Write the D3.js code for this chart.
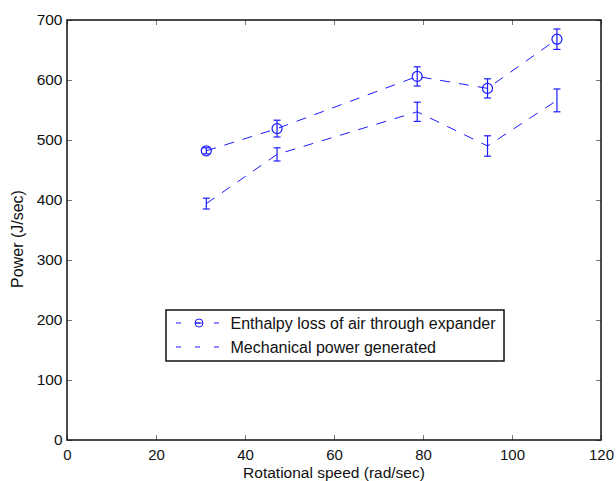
<!DOCTYPE html>
<html>
<head>
<meta charset="utf-8">
<script src="https://cdn.jsdelivr.net/npm/d3@7"></script>
<style>
  body { margin: 0; background: #fff; }
  text { font-family: "Liberation Sans", Arial, sans-serif; fill: #111; }
</style>
</head>
<body>
<div id="chart"></div>
<script>
// rotational speed (rad/sec)
var speeds = [31.3, 47.2, 78.7, 94.5, 110.1]
// enthalpy loss of air through expander
var enthalpy = [482, 519, 606, 586, 668]
var enthalpyErr = [5, 14, 16, 16, 17]
// mechanical power generated
var mechanical = [394, 476, 547, 490, 566]
var mechanicalErr = [9, 11, 16, 17, 19]

var xTicks = [0, 20, 40, 60, 80, 100, 120]
var yTicks = [0, 100, 200, 300, 400, 500, 600, 700]
var legendLabels = ["Enthalpy loss of air through expander", "Mechanical power generated"]

var margin = {top: 20, right: 15, bottom: 41, left: 67},
    width = 616 - margin.left - margin.right,
    height = 481 - margin.top - margin.bottom;

var svg = d3.select("#chart")
  .append("svg")
    .attr("width", 616)
    .attr("height", 481)
  .append("g")
    .attr("transform", "translate(" + margin.left + "," + margin.top + ")");

var x = d3.scaleLinear().domain([0, 120]).range([0, width])
var y = d3.scaleLinear().domain([0, 700]).range([height, 0])

// axes, matlab style: ticks inside, box on
var tickLen = 5
svg.append("g")
  .attr("transform", "translate(0," + height + ")")
  .call(d3.axisBottom(x).tickValues(xTicks).tickSizeInner(-tickLen).tickSizeOuter(0).tickPadding(9))
  .call(function(g){
    g.select(".domain").remove()
    g.selectAll(".tick line").attr("stroke", "#777")
    g.selectAll(".tick text").style("font-size", "15px").attr("dy", "0.72em")
  })

svg.append("g")
  .call(d3.axisLeft(y).tickValues(yTicks).tickSizeInner(-tickLen).tickSizeOuter(0).tickPadding(4.5))
  .call(function(g){
    g.select(".domain").remove()
    g.selectAll(".tick line").attr("stroke", "#777")
    g.selectAll(".tick text").style("font-size", "15.5px")
  })

// top and right ticks
svg.append("g")
  .call(d3.axisTop(x).tickValues(xTicks).tickSizeInner(-tickLen).tickSizeOuter(0).tickFormat(""))
  .call(function(g){ g.select(".domain").remove(); g.selectAll(".tick line").attr("stroke", "#777") })
svg.append("g")
  .attr("transform", "translate(" + width + ",0)")
  .call(d3.axisRight(y).tickValues(yTicks).tickSizeInner(-tickLen).tickSizeOuter(0).tickFormat(""))
  .call(function(g){ g.select(".domain").remove(); g.selectAll(".tick line").attr("stroke", "#777") })

svg.append("rect")
  .attr("x", 0).attr("y", 0)
  .attr("width", width).attr("height", height)
  .attr("fill", "none")
  .attr("stroke", "#111")
  .attr("stroke-width", 1.5)

// axis titles
svg.append("text")
  .attr("x", width / 2)
  .attr("y", height + 37.5)
  .attr("text-anchor", "middle")
  .style("font-size", "15.5px")
  .text("Rotational speed (rad/sec)")

svg.append("text")
  .attr("transform", "translate(" + (23 - margin.left) + "," + (height / 2 + 9) + ") rotate(-90)")
  .attr("text-anchor", "middle")
  .style("font-size", "16px")
  .text("Power (J/sec)")

var blue = "#1a1aff"

function drawSeries(vals, errs, withCircle){
  var data = speeds.map(function(s, i){ return {x: s, y: vals[i], e: errs[i]} })
  var line = d3.line().x(function(d){ return x(d.x) }).y(function(d){ return y(d.y) })

  svg.append("path")
    .datum(data)
    .attr("d", line)
    .attr("fill", "none")
    .attr("stroke", blue)
    .attr("stroke-width", 1)
    .attr("stroke-dasharray", "10,9")

  var cap = 3.5
  var g = svg.append("g")
  g.selectAll("line.stem")
    .data(data).enter().append("line")
      .attr("x1", function(d){ return x(d.x) })
      .attr("x2", function(d){ return x(d.x) })
      .attr("y1", function(d){ return y(d.y - d.e) })
      .attr("y2", function(d){ return y(d.y + d.e) })
      .attr("stroke", blue)
      .attr("stroke-width", 1.2)
  g.selectAll("line.top")
    .data(data).enter().append("line")
      .attr("x1", function(d){ return x(d.x) - cap })
      .attr("x2", function(d){ return x(d.x) + cap })
      .attr("y1", function(d){ return y(d.y + d.e) })
      .attr("y2", function(d){ return y(d.y + d.e) })
      .attr("stroke", blue)
      .attr("stroke-width", 1.2)
  g.selectAll("line.bot")
    .data(data).enter().append("line")
      .attr("x1", function(d){ return x(d.x) - cap })
      .attr("x2", function(d){ return x(d.x) + cap })
      .attr("y1", function(d){ return y(d.y - d.e) })
      .attr("y2", function(d){ return y(d.y - d.e) })
      .attr("stroke", blue)
      .attr("stroke-width", 1.2)

  if (withCircle){
    g.selectAll("circle")
      .data(data).enter().append("circle")
        .attr("cx", function(d){ return x(d.x) })
        .attr("cy", function(d){ return y(d.y) })
        .attr("r", 5)
        .attr("fill", "none")
        .attr("stroke", blue)
        .attr("stroke-width", 1.2)
  }
}

drawSeries(enthalpy, enthalpyErr, true)
drawSeries(mechanical, mechanicalErr, false)

// legend
var lg = svg.append("g").attr("transform", "translate(" + (166 - margin.left) + "," + (310 - margin.top) + ")")
lg.append("rect")
  .attr("width", 338).attr("height", 51)
  .attr("fill", "#fff")
  .attr("stroke", "#111")
  .attr("stroke-width", 1.5)

legendLabels.forEach(function(lbl, i){
  var cy = 13 + i * 24
  lg.append("line")
    .attr("x1", 10).attr("x2", 54)
    .attr("y1", cy).attr("y2", cy)
    .attr("stroke", blue)
    .attr("stroke-dasharray", "5,14")
  if (i === 0){
    lg.append("circle")
      .attr("cx", 33).attr("cy", cy).attr("r", 4)
      .attr("fill", "none").attr("stroke", blue)
    lg.append("line")
      .attr("x1", 29).attr("x2", 37)
      .attr("y1", cy).attr("y2", cy)
      .attr("stroke", blue)
  }
  lg.append("text")
    .attr("x", 64.5)
    .attr("y", cy + 5.5)
    .style("font-size", "16px")
    .text(lbl)
})
</script>
</body>
</html>
